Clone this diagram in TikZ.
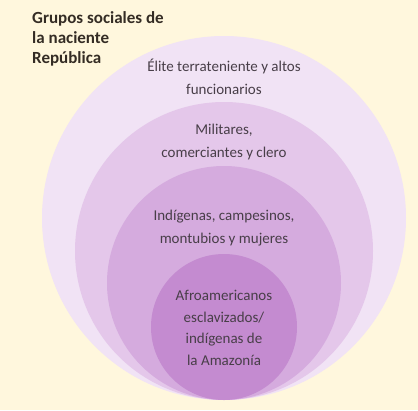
\documentclass[tikz,border=0pt]{standalone}
\usepackage{fontspec}
\setmainfont{Carlito}
\usetikzlibrary{positioning}

\definecolor{cream}{RGB}{255,247,221}
\definecolor{ringa}{RGB}{241,227,245}
\definecolor{ringb}{RGB}{228,199,234}
\definecolor{ringc}{RGB}{213,171,222}
\definecolor{ringd}{RGB}{196,139,208}
\definecolor{txtgray}{RGB}{72,62,72}
\definecolor{ttlbrown}{RGB}{52,44,36}

\begin{document}
\begin{tikzpicture}[
    x=1pt, y=-1pt,
    ring/.style={circle, draw=none, inner sep=0pt},
    lbl/.style={font=\fontsize{15}{22.5}\selectfont, text=txtgray, align=center},
    ttl/.style={font=\fontsize{17}{20}\selectfont\bfseries, text=ttlbrown, align=left, anchor=north west, inner sep=0pt}
]

% Background
\fill[cream] (0,0) rectangle (418,410);
\useasboundingbox (0,0) rectangle (418,410);

% Nested circles, all touching at the bottom
\node[ring, fill=ringa, minimum size=364pt] (elite) at (224,218) {};
\node[ring, fill=ringb, minimum size=298pt] (mil) at (224,251) {};
\node[ring, fill=ringc, minimum size=234pt] (ind) at (224,283) {};
\node[ring, fill=ringd, minimum size=146pt] (afro) at (224,327) {};

% Labels
\node[lbl] (elitetxt) at (224,77) {Élite terrateniente y altos\\funcionarios};
\node[lbl] (miltxt) at (224,142) {Militares,\\comerciantes y clero};
\node[lbl] (indtxt) at (224,228) {Indígenas, campesinos,\\montubios y mujeres};
\node[lbl, font=\fontsize{15}{21.5}\selectfont] (afrotxt) at (224,328) {Afroamericanos\\esclavizados/\\indígenas de\\la Amazonía};

% Title
\node[ttl] (title) at (32,11) {Grupos sociales de\\la naciente\\República};

\end{tikzpicture}
\end{document}
